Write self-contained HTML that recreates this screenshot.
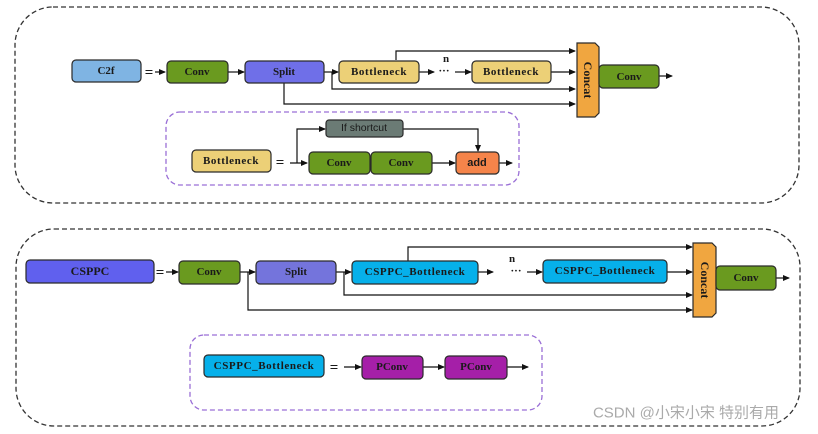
<!DOCTYPE html>
<html><head><meta charset="utf-8"><style>
html,body{margin:0;padding:0;background:#fff;}
svg{display:block}
text{font-family:"Liberation Serif","Noto Serif CJK SC",serif;font-weight:bold;font-size:11px;text-anchor:middle;dominant-baseline:central;fill:#1a1a1a}
.bn{letter-spacing:0.6px}
.eq{font-size:15px}
</style></head><body>
<svg width="818" height="434" viewBox="0 0 818 434" xmlns="http://www.w3.org/2000/svg">
<defs><marker id="a" markerWidth="7" markerHeight="6" refX="6" refY="3" orient="auto" markerUnits="userSpaceOnUse"><path d="M0,0 L7,3 L0,6 z" fill="#111"/></marker></defs>
<g fill="none" stroke="#333" stroke-width="1.3" stroke-dasharray="5,3">
<rect x="15" y="7" width="784" height="196" rx="38"/>
<rect x="16" y="229" width="784" height="197" rx="38"/>
</g>
<g fill="none" stroke="#9a6fd6" stroke-width="1.3" stroke-dasharray="5,3">
<rect x="166" y="112" width="353" height="73" rx="14"/>
<rect x="190" y="335" width="352" height="75" rx="14"/>
</g>
<g stroke="#111" stroke-width="1.2" fill="none">
<line x1="155" y1="72" x2="165" y2="72" marker-end="url(#a)"/>
<line x1="228" y1="72" x2="244" y2="72" marker-end="url(#a)"/>
<line x1="324" y1="72" x2="338" y2="72" marker-end="url(#a)"/>
<polyline points="332,72 332,89 575,89" marker-end="url(#a)"/>
<polyline points="284,83 284,104 575,104" marker-end="url(#a)"/>
<polyline points="396,60 396,51 575,51" marker-end="url(#a)"/>
<line x1="419" y1="72" x2="434" y2="72" marker-end="url(#a)"/>
<line x1="455" y1="72" x2="471" y2="72" marker-end="url(#a)"/>
<line x1="551" y1="72" x2="575" y2="72" marker-end="url(#a)"/>
<line x1="659" y1="76" x2="672" y2="76" marker-end="url(#a)"/>
<line x1="290" y1="163" x2="307" y2="163" marker-end="url(#a)"/>
<polyline points="297,163 297,129 325,129" marker-end="url(#a)"/>
<polyline points="403,129 478,129 478,151" marker-end="url(#a)"/>
<line x1="432" y1="163" x2="455" y2="163" marker-end="url(#a)"/>
<line x1="499" y1="163" x2="512" y2="163" marker-end="url(#a)"/>
<line x1="166" y1="272" x2="178" y2="272" marker-end="url(#a)"/>
<line x1="240" y1="272" x2="255" y2="272" marker-end="url(#a)"/>
<line x1="336" y1="272" x2="351" y2="272" marker-end="url(#a)"/>
<polyline points="344,272 344,295 692,295" marker-end="url(#a)"/>
<polyline points="248,272 248,310 692,310" marker-end="url(#a)"/>
<polyline points="408,261 408,247 692,247" marker-end="url(#a)"/>
<line x1="478" y1="272" x2="493" y2="272" marker-end="url(#a)"/>
<line x1="527" y1="272" x2="542" y2="272" marker-end="url(#a)"/>
<line x1="667" y1="272" x2="692" y2="272" marker-end="url(#a)"/>
<line x1="776" y1="278" x2="789" y2="278" marker-end="url(#a)"/>
<line x1="344" y1="367" x2="361" y2="367" marker-end="url(#a)"/>
<line x1="423" y1="367" x2="444" y2="367" marker-end="url(#a)"/>
<line x1="507" y1="367" x2="528" y2="367" marker-end="url(#a)"/>
</g>
<g stroke="#2a2a2a" stroke-width="1.2">
<rect x="72" y="60" width="69" height="22" rx="4" fill="#7fb4e3"/>
<rect x="167" y="61" width="61" height="22" rx="4" fill="#6a9a1f"/>
<rect x="245" y="61" width="79" height="22" rx="4" fill="#6f6fe8"/>
<rect x="339" y="61" width="80" height="22" rx="4" fill="#ecd077"/>
<rect x="472" y="61" width="79" height="22" rx="4" fill="#ecd077"/>
<path d="M577,43 H595 L599,47 V113 L595,117 H577 Z" fill="#f0a640"/>
<rect x="599" y="65" width="60" height="23" rx="4" fill="#6a9a1f"/>
<rect x="192" y="150" width="79" height="22" rx="4" fill="#ecd077"/>
<rect x="309" y="152" width="61" height="22" rx="4" fill="#6a9a1f"/>
<rect x="371" y="152" width="61" height="22" rx="4" fill="#6a9a1f"/>
<rect x="456" y="152" width="43" height="22" rx="4" fill="#f5844a"/>
<rect x="326" y="120" width="77" height="17" rx="3" fill="#6b7b75"/>
<rect x="26" y="260" width="128" height="23" rx="4" fill="#6060ee"/>
<rect x="179" y="261" width="61" height="23" rx="4" fill="#6a9a1f"/>
<rect x="256" y="261" width="80" height="23" rx="4" fill="#7474dc"/>
<rect x="352" y="261" width="126" height="23" rx="4" fill="#06b0ea"/>
<rect x="543" y="260" width="124" height="23" rx="4" fill="#06b0ea"/>
<path d="M693,243 H712 L716,247 V313 L712,317 H693 Z" fill="#f0a640"/>
<rect x="716" y="266" width="60" height="24" rx="4" fill="#6a9a1f"/>
<rect x="204" y="355" width="120" height="22" rx="4" fill="#06b0ea"/>
<rect x="362" y="356" width="61" height="23" rx="4" fill="#a51fa8"/>
<rect x="445" y="356" width="62" height="23" rx="4" fill="#a51fa8"/>
</g>
<text x="106" y="71">C2f</text>
<text x="197" y="72">Conv</text>
<text x="284" y="72" fill="#eee">Split</text>
<text x="379" y="72" class="bn">Bottleneck</text>
<text x="511" y="72" class="bn">Bottleneck</text>
<text transform="translate(588,80) rotate(90)" x="0" y="0" style="font-size:12px">Concat</text>
<text x="629" y="77">Conv</text>
<text x="231" y="161" class="bn">Bottleneck</text>
<text x="339" y="163">Conv</text>
<text x="401" y="163">Conv</text>
<text x="477" y="163" style="font-family:'Liberation Sans',sans-serif">add</text>
<text x="364" y="128" fill="#ddd" style="font-family:'Liberation Sans',sans-serif;font-weight:normal;font-size:10.5px">If shortcut</text>
<text x="90" y="271" style="font-size:12px">CSPPC</text>
<text x="209" y="272">Conv</text>
<text x="296" y="272" fill="#ddd">Split</text>
<text x="415" y="272" class="bn">CSPPC_Bottleneck</text>
<text x="605" y="271" class="bn">CSPPC_Bottleneck</text>
<text transform="translate(705,280) rotate(90)" x="0" y="0" style="font-size:12px">Concat</text>
<text x="746" y="278">Conv</text>
<text x="264" y="366" class="bn">CSPPC_Bottleneck</text>
<text x="392" y="367">PConv</text>
<text x="476" y="367">PConv</text>
<text x="160" y="273" class="eq">=</text>
<text x="149" y="73" class="eq">=</text>
<text x="280" y="163" class="eq">=</text>
<text x="334" y="368" class="eq">=</text>
<text x="444" y="71">···</text>
<text x="446" y="59">n</text>
<text x="516" y="271">···</text>
<text x="512" y="259">n</text>
<text x="686" y="413" style="font-family:'Liberation Sans','Noto Sans CJK SC',sans-serif;font-weight:normal;font-size:15px;fill:#aaa">CSDN @小宋小宋 特别有用</text>
</svg>
</body></html>
